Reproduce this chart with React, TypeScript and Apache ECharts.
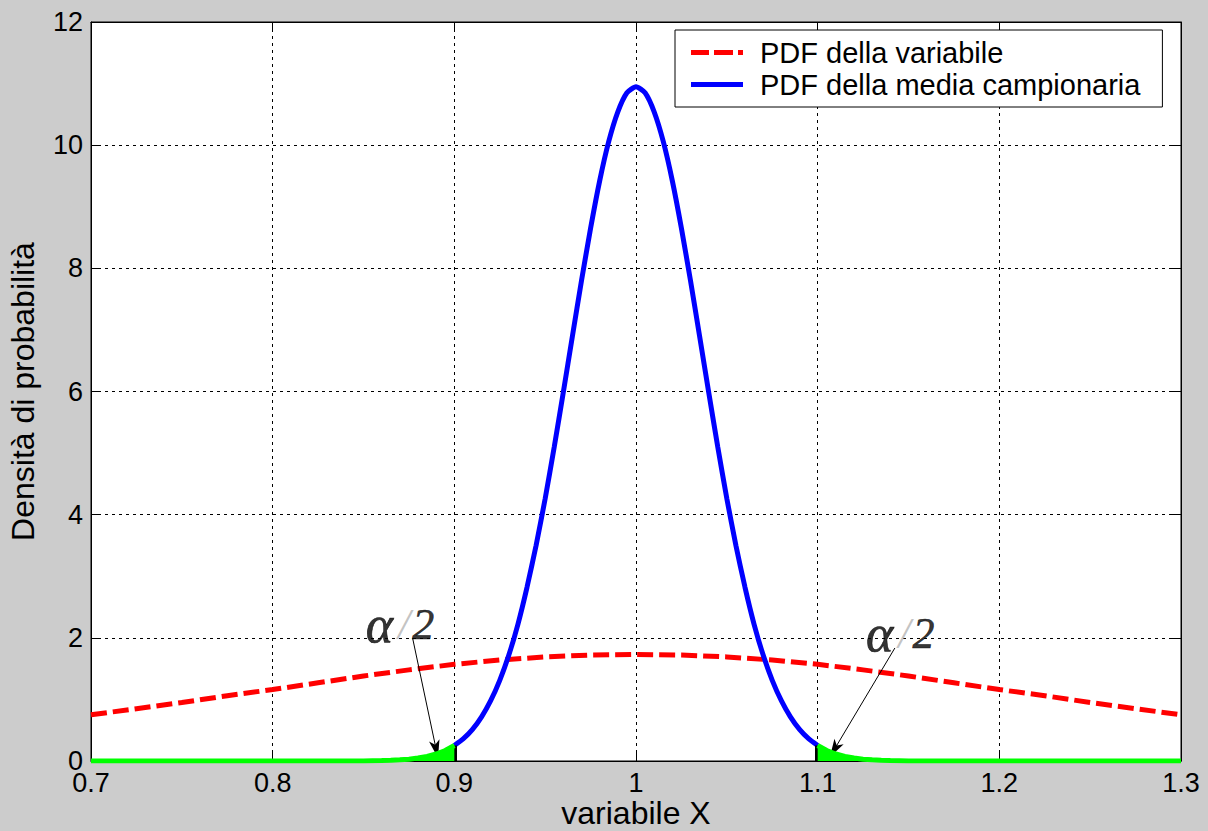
import React, { useEffect, useRef } from "react";
import * as echarts from "echarts";

// PDF della variabile (red dashed)
const redX = [0.7, 0.725, 0.75, 0.775, 0.8, 0.825, 0.85, 0.875, 0.9, 0.925, 0.95, 0.975, 1.0,
  1.025, 1.05, 1.075, 1.1, 1.125, 1.15, 1.175, 1.2, 1.225, 1.25, 1.275, 1.3];
const redY = [0.75, 0.85, 0.95, 1.06, 1.16, 1.27, 1.38, 1.48, 1.57, 1.64, 1.69, 1.72, 1.73,
  1.72, 1.69, 1.64, 1.57, 1.48, 1.38, 1.27, 1.16, 1.06, 0.95, 0.85, 0.75];

// PDF della media campionaria (blue), between the two limits
const blueX = [0.9, 0.905, 0.91, 0.915, 0.92, 0.925, 0.93, 0.935, 0.94, 0.945, 0.95, 0.955, 0.96,
  0.965, 0.97, 0.975, 0.98, 0.985, 0.99, 0.995, 1.0, 1.005, 1.01, 1.015, 1.02, 1.025, 1.03, 1.035,
  1.04, 1.045, 1.05, 1.055, 1.06, 1.065, 1.07, 1.075, 1.08, 1.085, 1.09, 1.095, 1.1];
const blueY = [0.252, 0.363, 0.514, 0.717, 0.979, 1.31, 1.72, 2.22, 2.82, 3.5, 4.26, 5.1, 5.99,
  6.9, 7.8, 8.65, 9.42, 10.06, 10.54, 10.85, 10.95, 10.85, 10.54, 10.06, 9.42, 8.65, 7.8, 6.9,
  5.99, 5.1, 4.26, 3.5, 2.82, 2.22, 1.72, 1.31, 0.979, 0.717, 0.514, 0.363, 0.252];

// green tails (alpha/2 regions)
const leftTailX = [0.7, 0.8, 0.85, 0.86, 0.865, 0.87, 0.875, 0.88, 0.885, 0.89, 0.895, 0.9];
const leftTailY = [0, 0, 0.001, 0.007, 0.011, 0.019, 0.03, 0.048, 0.075, 0.114, 0.17, 0.252];
const rightTailX = [1.1, 1.105, 1.11, 1.115, 1.12, 1.125, 1.13, 1.135, 1.14, 1.15, 1.2, 1.3];
const rightTailY = [0.252, 0.17, 0.114, 0.075, 0.048, 0.03, 0.019, 0.011, 0.007, 0.001, 0, 0];
const leftFillX = [0.875, 0.88, 0.885, 0.89, 0.895, 0.9];
const leftFillY = [0.03, 0.048, 0.075, 0.114, 0.17, 0.252];
const rightFillX = [1.1, 1.105, 1.11, 1.115, 1.12, 1.125];
const rightFillY = [0.252, 0.17, 0.114, 0.075, 0.048, 0.03];

// limits of the interval
const limitX = [0.9, 1.1];
const limitY = [0.252, 0.252];

// annotations
const annotText = ["α/2", "α/2"];
const annotPos = [[0.8701, 2.22], [1.1455, 2.07]];
const arrowStart = [[0.877, 2.0], [1.1425, 1.835]];
const arrowEnd = [[0.891, 0.05], [1.1067, 0.065]];

const legendNames = ["PDF della variabile", "PDF della media campionaria"];
const xAxisName = "variabile X";
const yAxisName = "Densità di probabilità";

const zip = (a: number[], b: number[]) => a.map((v, i) => [v, b[i]]);

const FONT = "Liberation Sans, Arial, sans-serif";
const SERIF = "Liberation Serif, Times New Roman, serif";

export default function App() {
  const ref = useRef<HTMLDivElement>(null);
  useEffect(() => {
    if (!ref.current) return;
    const chart = echarts.init(ref.current, null, { renderer: "svg" });
    const tickStyle = { inside: true, length: 9, lineStyle: { color: "#000", width: 1 } };
    const grid = { type: [3, 4] as any, color: "#000", width: 1 };
    const option: any = {
      animation: false,
      backgroundColor: "#cccccc",
      grid: {
        left: 91, right: 27, top: 22, bottom: 70,
        outerBoundsMode: "none",
        containLabel: false,
        show: true, backgroundColor: "#ffffff", borderColor: "#000", borderWidth: 1,
      },
      legend: {
        orient: "vertical",
        left: 675, top: 30,
        padding: [8, 22, 8, 16],
        itemGap: 3,
        itemWidth: 52, itemHeight: 5,
        backgroundColor: "#ffffff",
        borderColor: "#000", borderWidth: 1, borderRadius: 0,
        data: [
          {
            name: legendNames[0],
            icon: "path://M0,0h18v5h-18z M23,0h19v5h-19z M47,0h5v5h-5z",
            itemStyle: { color: "#ff0000" },
          },
          {
            name: legendNames[1],
            icon: "path://M0,0h52v5h-52z",
            itemStyle: { color: "#0000ff" },
          },
        ],
        textStyle: {
          color: "#000", fontSize: 29, fontFamily: FONT, padding: [0, 0, 0, 12],
        },
      },
      xAxis: [
        {
          type: "value", min: 0.7, max: 1.3, interval: 0.1, position: "bottom",
          axisLine: { show: true, onZero: false, lineStyle: { color: "#000", width: 1 } },
          axisTick: tickStyle,
          axisLabel: { color: "#000", fontSize: 27, fontFamily: FONT, margin: 8 },
          splitLine: { show: true, lineStyle: grid },
          name: xAxisName, nameLocation: "middle", nameGap: 36, nameMoveOverlap: false,
          nameTextStyle: { color: "#000", fontSize: 32, fontFamily: FONT },
        },
        {
          type: "value", min: 0.7, max: 1.3, interval: 0.1, position: "top",
          axisLine: { show: true, onZero: false, lineStyle: { color: "#000", width: 1 } },
          axisTick: tickStyle, axisLabel: { show: false }, splitLine: { show: false },
        },
      ],
      yAxis: [
        {
          type: "value", min: 0, max: 12, interval: 2, position: "left",
          axisLine: { show: true, onZero: false, lineStyle: { color: "#000", width: 1 } },
          axisTick: tickStyle,
          axisLabel: { color: "#000", fontSize: 27, fontFamily: FONT, margin: 8 },
          splitLine: { show: true, lineStyle: grid },
          name: yAxisName, nameLocation: "middle", nameGap: 52,
          nameTextStyle: { color: "#000", fontSize: 32, fontFamily: FONT },
        },
        {
          type: "value", min: 0, max: 12, interval: 2, position: "right",
          axisLine: { show: true, onZero: false, lineStyle: { color: "#000", width: 1 } },
          axisTick: tickStyle, axisLabel: { show: false }, splitLine: { show: false },
        },
      ],
      series: [
        {
          name: legendNames[0], type: "line", data: zip(redX, redY), showSymbol: false,
          symbol: "none", z: 3,
          lineStyle: { color: "#ff0000", width: 5, type: [16, 6] },
          itemStyle: { color: "#ff0000" },
        },
        {
          name: legendNames[1], type: "line", data: zip(blueX, blueY), showSymbol: false,
          symbol: "none", z: 4, smooth: 0.2,
          lineStyle: { color: "#0000ff", width: 5 },
          itemStyle: { color: "#0000ff" },
        },
        {
          name: "fillL", type: "line", data: zip(leftFillX, leftFillY), symbol: "none", z: 5,
          lineStyle: { color: "#00ff00", width: 1 },
          areaStyle: { color: "#00ff00", opacity: 1 },
        },
        {
          name: "fillR", type: "line", data: zip(rightFillX, rightFillY), symbol: "none", z: 5,
          lineStyle: { color: "#00ff00", width: 1 },
          areaStyle: { color: "#00ff00", opacity: 1 },
        },
        {
          name: "tailL", type: "line", data: zip(leftTailX, leftTailY), symbol: "none", z: 5,
          lineStyle: { color: "#00ff00", width: 5 },
        },
        {
          name: "tailR", type: "line", data: zip(rightTailX, rightTailY), symbol: "none", z: 5,
          lineStyle: { color: "#00ff00", width: 5 },
        },
        {
          name: "limits", type: "line", data: [], z: 6,
          markLine: {
            silent: true, symbol: ["none", "none"], label: { show: false },
            lineStyle: { color: "#000", width: 5, type: "solid" },
            data: limitX.map((x, i) => [{ coord: [x, 0] }, { coord: [x, limitY[i]] }]),
          },
        },
        {
          name: "arrows", type: "line", data: [], z: 7,
          markLine: {
            silent: true, symbol: ["none", "arrow"], symbolSize: [8, 18], label: { show: false },
            lineStyle: { color: "#000", width: 1, type: "solid" },
            data: arrowStart.map((s, i) => [{ coord: s }, { coord: arrowEnd[i] }]),
          },
        },
        {
          name: "annot", type: "scatter", symbolSize: 0, z: 8,
          data: annotPos.map((p, i) => ({ value: p, text: annotText[i] })),
          label: {
            show: true, position: "inside",
            formatter: (p: any) => {
              const t: string = p.data.text;
              return `{a|${t[0]}}{s|${t[1]}}{b|${t[2]}}`;
            },
            rich: {
              a: { fontFamily: SERIF, fontStyle: "italic", fontSize: 52, color: "#000", textBorderColor: "#000", textBorderWidth: 0.6 },
              s: { fontFamily: SERIF, fontStyle: "italic", fontSize: 44, color: "#b4b4b4", padding: [0, 2, 0, 5] },
              b: { fontFamily: SERIF, fontStyle: "italic", fontSize: 44, color: "#000", textBorderColor: "#000", textBorderWidth: 0.6 },
            },
          },
        },
      ],
    };
    chart.setOption(option);
    return () => chart.dispose();
  }, []);
  return (
    <div
      ref={ref}
      style={{ position: "absolute", left: 0, top: 0, width: 1208, height: 831 }}
    />
  );
}
